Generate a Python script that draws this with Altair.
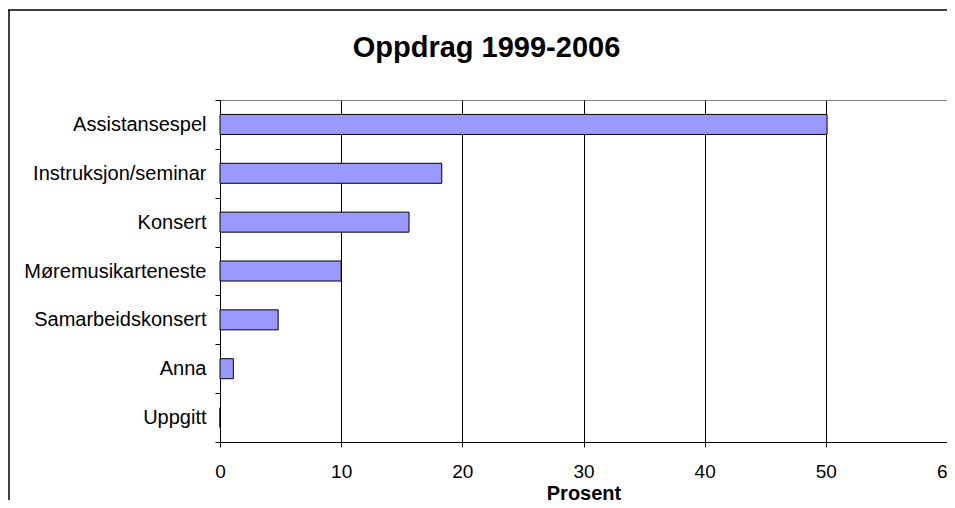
import altair as alt
import pandas as pd

categories = ["Assistansespel", "Instruksjon/seminar", "Konsert", "Møremusikarteneste",
              "Samarbeidskonsert", "Anna", "Uppgitt"]
values = [50.1, 18.3, 15.6, 10.0, 4.8, 1.1, 0.0]
x_ticks = [0, 10, 20, 30, 40, 50, 60]
title_text = "Oppdrag 1999-2006"
x_title = "Prosent"

df = pd.DataFrame({"kategori": categories, "prosent": values})

FONT = "Liberation Sans"

bars = alt.Chart(df).mark_bar(size=20, color="#9999FF", stroke="#000000", strokeWidth=1).encode(
    y=alt.Y("kategori:N", sort=categories,
            scale=alt.Scale(paddingInner=0, paddingOuter=0),
            axis=alt.Axis(title=None, tickBand="extent", labelFontSize=20, labelFont=FONT,
                          labelColor="#000000", tickSize=5, tickColor="#000000",
                          domainColor="#000000", labelPadding=9, grid=False, labelLimit=400)),
    x=alt.X("prosent:Q", scale=alt.Scale(domain=[0, 60], nice=False),
            axis=alt.Axis(values=x_ticks, title=x_title, labelFontSize=19, labelFont=FONT,
                          labelColor="#000000", labelBaseline="alphabetic", labelPadding=30,
                          labelFlush=False, labelOverlap=False,
                          tickSize=5, tickColor="#000000", domainColor="#000000",
                          grid=True, gridColor="#000000", gridWidth=1, gridOpacity=1,
                          titleFont=FONT, titleFontSize=20, titleFontWeight="bold",
                          titleColor="#000000", titleY=57, titleBaseline="alphabetic")),
)

title_mark = alt.Chart(alt.Data(values=[{"t": title_text}])).mark_text(
    font=FONT, fontSize=29, fontWeight="bold", color="#000000", align="center", baseline="alphabetic"
).encode(text="t:N", x=alt.value(266.5), y=alt.value(-43))

frame_top = alt.Chart(alt.Data(values=[{"f": 1}])).mark_rule(color="#000000", strokeWidth=1.5).encode(
    x=alt.value(-212), x2=alt.value(740), y=alt.value(-90)
)
frame_left = alt.Chart(alt.Data(values=[{"f": 1}])).mark_rule(color="#000000", strokeWidth=1.5).encode(
    x=alt.value(-211), y=alt.value(-90), y2=alt.value(420)
)

chart = alt.layer(frame_top, frame_left, title_mark, bars).properties(
    width=727,
    height=342,
    autosize=alt.AutoSizeParams(type="none"),
    padding={"left": 212, "top": 92, "right": 0, "bottom": 58},
).configure_view(stroke="#808080", strokeWidth=1)

chart.save("out.html", embed_options={"renderer": "svg", "actions": False})
